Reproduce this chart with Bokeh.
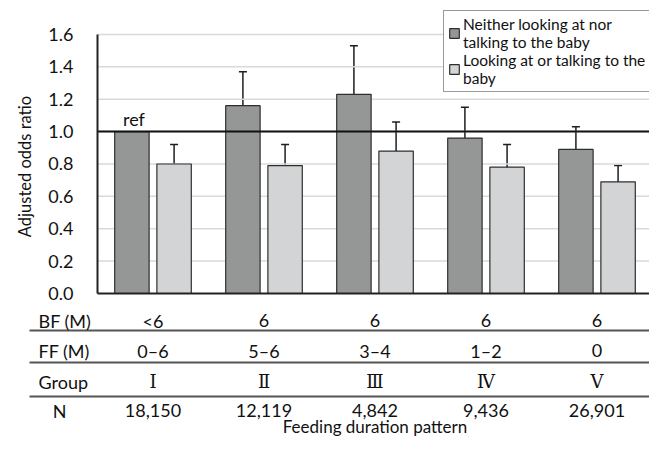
import math
from bokeh.plotting import figure
from bokeh.models import (ColumnDataSource, Range1d, Whisker, TeeHead, Legend, LegendItem)
from bokeh.core.properties import value
from bokeh.embed import file_html
from bokeh.resources import INLINE

# ---------------- data ----------------
groups = ["I", "II", "III", "IV", "V"]
bf_months = ["<6", "6", "6", "6", "6"]
ff_months = ["0\u20136", "5\u20136", "3\u20134", "1\u20132", "0"]
group_labels = ["\u2160", "\u2161", "\u2162", "\u2163", "\u2164"]
n_values = ["18,150", "12,119", "4,842", "9,436", "26,901"]

neither_or = [1.00, 1.16, 1.23, 0.96, 0.89]
neither_lower = [None, 0.97, 0.98, 0.79, 0.77]
neither_upper = [None, 1.37, 1.53, 1.15, 1.03]

looking_or = [0.80, 0.79, 0.88, 0.78, 0.69]
looking_lower = [0.70, 0.68, 0.74, 0.67, 0.61]
looking_upper = [0.92, 0.92, 1.06, 0.92, 0.79]

y_ticks = [0.0, 0.2, 0.4, 0.6, 0.8, 1.0, 1.2, 1.4, 1.6]
row_names = ["BF (M)", "FF (M)", "Group", "N"]

# ---------------- styling / layout constants ----------------
FONT = "Lato"
DARK = "#959797"
LIGHT = "#d3d4d5"
EDGE = "#2e2e2e"
INK = "#111111"

W, H = 649, 436
AX_LEFT = 97        # px of the value axis
AX_RIGHT = 652      # px where the category axis ends
ZERO_Y = 293        # px of 0.0
X_PX = 111.0        # px per group
Y_PX = 161.9        # px per 1.0 of odds ratio
OFF = 0.19
BW = 0.31


def xpx(px):
    return -0.5 + (px - AX_LEFT) / X_PX


def ypx(py):
    return (ZERO_Y - py) / Y_PX


X0, X1 = -0.5, xpx(AX_RIGHT)
xs = list(range(len(groups)))
x_dark = [x - OFF for x in xs]
x_light = [x + OFF for x in xs]

p = figure(width=W, height=H, x_range=Range1d(xpx(0), xpx(W)), y_range=Range1d(ypx(H), ypx(0)),
           output_backend="svg", toolbar_location=None,
           min_border_left=0, min_border_right=0, min_border_top=0, min_border_bottom=0)
p.outline_line_color = None
p.background_fill_color = "white"
p.axis.visible = False
p.grid.visible = False

# grid lines
gt = y_ticks[1:]
p.segment(x0=[X0] * len(gt), y0=gt, x1=[X1 - 0.01] * len(gt), y1=gt,
          line_color="#d9d9d9", line_width=1.5)

# bars
dark_src = ColumnDataSource(dict(x=x_dark, top=neither_or))
light_src = ColumnDataSource(dict(x=x_light, top=looking_or))
r_dark = p.vbar(x="x", top="top", width=BW, bottom=0, source=dark_src,
                fill_color=DARK, line_color=EDGE, line_width=1.2)
r_light = p.vbar(x="x", top="top", width=BW, bottom=0, source=light_src,
                 fill_color=LIGHT, line_color=EDGE, line_width=1.2)

# reference line at 1.0
p.segment(x0=[X0], y0=[1.0], x1=[X1], y1=[1.0], line_color=INK, line_width=2)

# axes lines
p.segment(x0=[X0], y0=[0], x1=[X0], y1=[y_ticks[-1]], line_color="#222222", line_width=2)
p.segment(x0=[X0], y0=[0], x1=[X1], y1=[0], line_color="#222222", line_width=2)

# error bars
wd = dict(x=[], lower=[], upper=[])
for xv, lo, up in zip(x_dark, neither_lower, neither_upper):
    if lo is not None:
        wd["x"].append(xv); wd["lower"].append(lo); wd["upper"].append(up)
wl = dict(x=x_light, lower=looking_lower, upper=looking_upper)
for d in (wd, wl):
    w = Whisker(base="x", lower="lower", upper="upper", source=ColumnDataSource(d),
                line_color="#1e1e1e", line_width=1.5,
                upper_head=TeeHead(size=8, line_color="#1e1e1e", line_width=1.5),
                lower_head=TeeHead(size=8, line_color="#1e1e1e", line_width=1.5))
    p.add_layout(w)

# "ref" marker
p.text(x=[x_dark[0]], y=[neither_or[0]], text=["ref"], text_font=value(FONT),
       text_font_size="18px", text_align="center", text_baseline="middle",
       x_offset=2, y_offset=-13, text_color=INK)

# value-axis tick labels and title
p.text(x=[X0] * len(y_ticks), y=y_ticks, text=["%.1f" % v for v in y_ticks],
       text_font=value(FONT), text_font_size="18px", text_align="right",
       text_baseline="middle", x_offset=-24, text_color=INK)
p.text(x=[xpx(24)], y=[ypx(166)], text=["Adjusted odds ratio"], angle=math.pi / 2,
       text_font=value(FONT), text_font_size="16.5px", text_align="center",
       text_baseline="middle", text_color=INK)

# legend
legend = Legend(items=[
    LegendItem(label="Neither looking at nor\ntalking to the baby", renderers=[r_dark]),
    LegendItem(label="Looking at or talking to the\nbaby", renderers=[r_light]),
], location=(443, H - 92))
legend.label_text_font = FONT
legend.label_text_font_size = "15.5px"
legend.label_text_line_height = 1.25
legend.label_text_color = INK
legend.glyph_width = 12
legend.glyph_height = 12
legend.label_standoff = 3
legend.spacing = 0
legend.padding = 4
legend.margin = 0
legend.border_line_color = "#333333"
legend.border_line_width = 1.2
legend.background_fill_color = "white"
legend.background_fill_alpha = 1.0
p.add_layout(legend)

# ---------------- table below the chart ----------------
row_y = [ypx(320), ypx(350), ypx(381), ypx(410)]
line_y = [ypx(330), ypx(362), ypx(396)]

p.segment(x0=[xpx(29)] * 3, y0=line_y, x1=[xpx(W)] * 3, y1=line_y,
          line_color="#555555", line_width=2)

p.text(x=[xpx(38)] * 3, y=row_y[:3], text=row_names[:3], text_font=value(FONT),
       text_font_size="18px", text_align="left", text_baseline="middle", text_color=INK)
p.text(x=[xpx(59)], y=[row_y[3]], text=[row_names[3]], text_font=value(FONT),
       text_font_size="18px", text_align="center", text_baseline="middle", text_color=INK)

for vals, yy, font in ((bf_months, row_y[0], FONT), (ff_months, row_y[1], FONT),
                       (group_labels, row_y[2], "DejaVu Serif"), (n_values, row_y[3], FONT)):
    p.text(x=xs, y=[yy] * len(xs), text=vals, text_font=value(font), text_font_size="18px",
           text_align="center", text_baseline="middle", text_color=INK)

p.text(x=[2.0], y=[ypx(H)], text=["Feeding duration pattern"], text_font=value(FONT),
       text_font_size="17px", text_align="center", text_baseline="bottom", text_color=INK)

open("out.html", "w").write(file_html(p, INLINE))
